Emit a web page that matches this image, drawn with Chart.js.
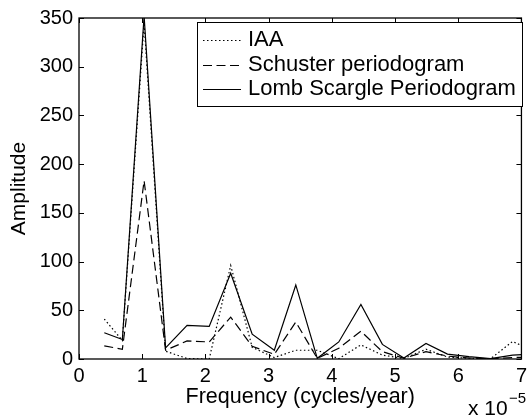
<!DOCTYPE html>
<html lang="en">

<head>
    <meta charset="UTF-8">
    <script src="https://cdn.jsdelivr.net/npm/chart.js"></script>
    <title>Periodogram</title>
    <style>
        html, body { margin: 0; padding: 0; background: #fff; }
        #wrap { width: 532px; height: 419px; }
    </style>
</head>

<body>
    <div id="wrap">
        <canvas id="grafico" width="532" height="419"></canvas>
    </div>
</body>

</html>
<script>
    // frequency (x 10^-5 cycles/year)
    const frequencias = [0.40, 0.686, 1.03, 1.37, 1.71, 2.06, 2.40, 2.74, 3.09, 3.43, 3.77,
        4.11, 4.46, 4.80, 5.14, 5.49, 5.83, 6.17, 6.51, 6.86, 7.20];
    const iaa = [41, 19, 345, 8, 0.5, 0, 96, 12, 1.5, 9, 9,
        0.3, 14.5, 4, 0.5, 10, 2, 0.8, 0.2, 18, 8];
    const schuster = [13.5, 10, 183, 9, 18.5, 17.5, 43, 13, 4.8, 38, 0.7,
        11, 28.5, 7.5, 0.8, 7.5, 3, 1, 0.3, 1.5, 2];
    const lomb = [27, 20, 352, 11.5, 34.5, 33.5, 88, 25.5, 9, 76, 0.7,
        17.5, 56, 15, 1, 16, 5, 2.4, 0.3, 4, 5];
    const ticksX = [0, 1, 2, 3, 4, 5, 6, 7];
    const ticksY = [0, 50, 100, 150, 200, 250, 300, 350];

    const fonte = "'Liberation Sans', Arial, Helvetica, sans-serif";

    function pontos(valores) {
        return frequencias.map((f, i) => ({ x: f, y: valores[i] }));
    }

    const series = [
        { label: 'IAA', data: iaa, dash: [1.5, 2.5] },
        { label: 'Schuster periodogram', data: schuster, dash: [9, 4.5] },
        { label: 'Lomb Scargle Periodogram', data: lomb, dash: [] }
    ];

    // box, inward ticks, legend and the exponent label, matlab style
    const moldura = {
        id: 'moldura',
        beforeDraw(chart) {
            const ctx = chart.ctx;
            ctx.save();
            ctx.fillStyle = '#fff';
            ctx.fillRect(0, 0, chart.width, chart.height);
            ctx.restore();
        },
        afterDraw(chart) {
            const ctx = chart.ctx;
            const a = chart.chartArea;
            const sx = chart.scales.x, sy = chart.scales.y;
            const tl = 5;
            ctx.save();
            ctx.strokeStyle = '#000';
            ctx.lineWidth = 1.3;
            ctx.strokeRect(a.left, a.top, a.right - a.left, a.bottom - a.top);
            ctx.lineWidth = 1;
            ctx.beginPath();
            ticksX.forEach(v => {
                const px = Math.round(sx.getPixelForValue(v)) + 0.5;
                ctx.moveTo(px, a.bottom); ctx.lineTo(px, a.bottom - tl);
                ctx.moveTo(px, a.top); ctx.lineTo(px, a.top + tl);
            });
            ticksY.forEach(v => {
                const py = Math.round(sy.getPixelForValue(v)) + 0.5;
                ctx.moveTo(a.left, py); ctx.lineTo(a.left + tl, py);
                ctx.moveTo(a.right, py); ctx.lineTo(a.right - tl, py);
            });
            ctx.stroke();

            // legend
            const lx = 197, ly = 22, lw = 325, lh = 84;
            ctx.fillStyle = '#fff';
            ctx.fillRect(lx, ly, lw, lh);
            ctx.lineWidth = 1;
            ctx.strokeRect(lx + 0.5, ly + 0.5, lw, lh);
            ctx.font = '22px ' + fonte;
            ctx.textBaseline = 'middle';
            ctx.textAlign = 'left';
            ctx.fillStyle = '#000';
            const ys = [40, 65, 89];
            series.forEach((s, i) => {
                ctx.beginPath();
                ctx.setLineDash(s.dash);
                ctx.lineWidth = 1.2;
                ctx.moveTo(203, ys[i] + 0.5);
                ctx.lineTo(241, ys[i] + 0.5);
                ctx.stroke();
                ctx.setLineDash([]);
                ctx.fillText(s.label, 248, ys[i]);
            });

            // x 10^-5
            ctx.textBaseline = 'alphabetic';
            ctx.font = '21px ' + fonte;
            ctx.fillText('x 10', 468, 415);
            ctx.font = '15px ' + fonte;
            ctx.fillText('\u22125', 509, 403);
            ctx.restore();
        }
    };

    const grafico = document.getElementById('grafico');

    const pog = new Chart(grafico, {
        type: 'line',
        data: {
            datasets: series.map(s => ({
                label: s.label,
                data: pontos(s.data),
                borderColor: '#000',
                borderWidth: 1.2,
                borderDash: s.dash,
                pointRadius: 0,
                tension: 0,
                fill: false
            }))
        },
        options: {
            responsive: false,
            animation: false,
            devicePixelRatio: 1,
            layout: { padding: { top: 16, right: 5, left: 0, bottom: 0 } },
            plugins: {
                legend: { display: false },
                tooltip: { enabled: false }
            },
            scales: {
                x: {
                    type: 'linear',
                    min: 0,
                    max: 7,
                    grid: { display: false, drawTicks: false },
                    border: { display: false },
                    afterFit: (s) => { s.height = 60; },
                    afterBuildTicks: (s) => { s.ticks = ticksX.map(v => ({ value: v })); },
                    ticks: {
                        padding: 5,
                        maxRotation: 0,
                        color: '#000',
                        font: { family: fonte, size: 20 }
                    },
                    title: {
                        display: true,
                        text: 'Frequency (cycles/year)',
                        color: '#000',
                        font: { family: fonte, size: 21.5 },
                        padding: { top: 0, bottom: 9 }
                    }
                },
                y: {
                    min: 0,
                    max: 350,
                    grid: { display: false, drawTicks: false },
                    border: { display: false },
                    afterFit: (s) => { s.width = 79; },
                    afterBuildTicks: (s) => { s.ticks = ticksY.map(v => ({ value: v })); },
                    ticks: {
                        padding: 6,
                        color: '#000',
                        font: { family: fonte, size: 20 }
                    },
                    title: {
                        display: true,
                        text: 'Amplitude',
                        color: '#000',
                        font: { family: fonte, size: 21 },
                        padding: { top: 7, bottom: 0 }
                    }
                }
            }
        },
        plugins: [moldura]
    });
</script>
